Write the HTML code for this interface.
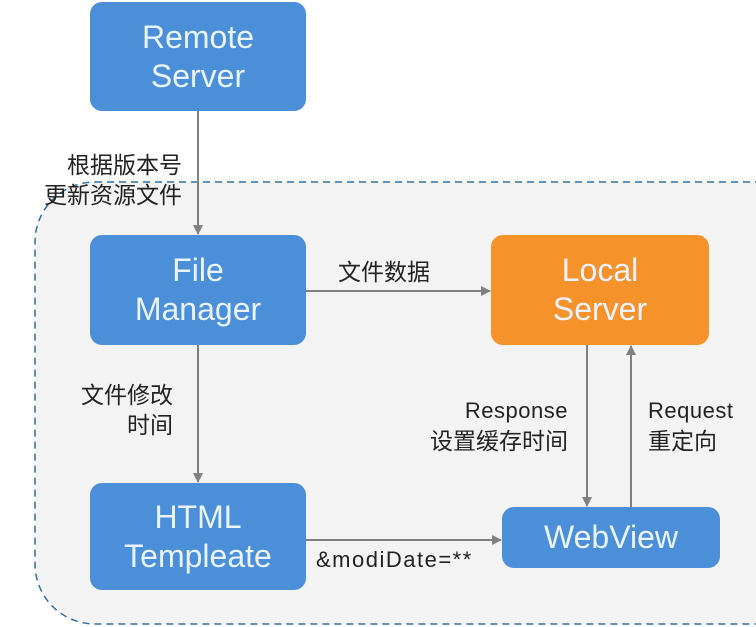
<!DOCTYPE html>
<html><head><meta charset="utf-8"><style>
body{margin:0;width:756px;height:627px;background:#fff;overflow:hidden;position:relative;font-family:"Liberation Sans","Noto Sans CJK SC",sans-serif}
.b{position:absolute;background:#4a8fd8;border-radius:12px;color:#eaf3ff;display:flex;align-items:center;justify-content:center;text-align:center;font-size:32px;line-height:39px;font-weight:300}
.t{position:absolute;font-size:23px;line-height:30px;color:#222;white-space:nowrap}
.l{font-size:22px;letter-spacing:0.5px}
</style></head><body>
<svg width="756" height="627" style="position:absolute;left:0;top:0">
<defs><marker id="a" markerWidth="10" markerHeight="10" refX="9" refY="5" orient="auto" markerUnits="userSpaceOnUse"><path d="M0,0L10,5L0,10z" fill="#808080"/></marker></defs>
<rect x="35" y="182" width="780" height="442" rx="60" fill="#f3f3f3" stroke="#2f6f9f" stroke-width="1.5" stroke-dasharray="7,5"/>
<g stroke="#808080" stroke-width="2" fill="none" marker-end="url(#a)">
<line x1="198" y1="111" x2="198" y2="234"/>
<line x1="306" y1="291" x2="490" y2="291"/>
<line x1="198" y1="345" x2="198" y2="482"/>
<line x1="306" y1="540" x2="501" y2="540"/>
<line x1="587" y1="345" x2="587" y2="506"/>
<line x1="631" y1="507" x2="631" y2="346"/>
</g></svg>
<div class="b" style="left:90px;top:2px;width:216px;height:109px">Remote<br>Server</div>
<div class="b" style="left:90px;top:235px;width:216px;height:110px">File<br>Manager</div>
<div class="b" style="left:491px;top:235px;width:218px;height:110px;background:#f5922a">Local<br>Server</div>
<div class="b" style="left:90px;top:483px;width:216px;height:107px">HTML<br>Templeate</div>
<div class="b" style="left:502px;top:507px;width:218px;height:61px">WebView</div>
<div class="t" style="left:23px;top:150px;width:159px;text-align:right">根据版本号<br>更新资源文件</div>
<div class="t" style="left:338px;top:257px">文件数据</div>
<div class="t" style="left:63px;top:380px;width:110px;text-align:right">文件修改<br>时间</div>
<div class="t" style="left:390px;top:395px;width:178px;text-align:right"><span class="l">Response</span><br>设置缓存时间</div>
<div class="t" style="left:648px;top:395px"><span class="l">Request</span><br>重定向</div>
<div class="t l" style="left:316px;top:545px;letter-spacing:1.5px">&amp;modiDate=**</div>
</body></html>
